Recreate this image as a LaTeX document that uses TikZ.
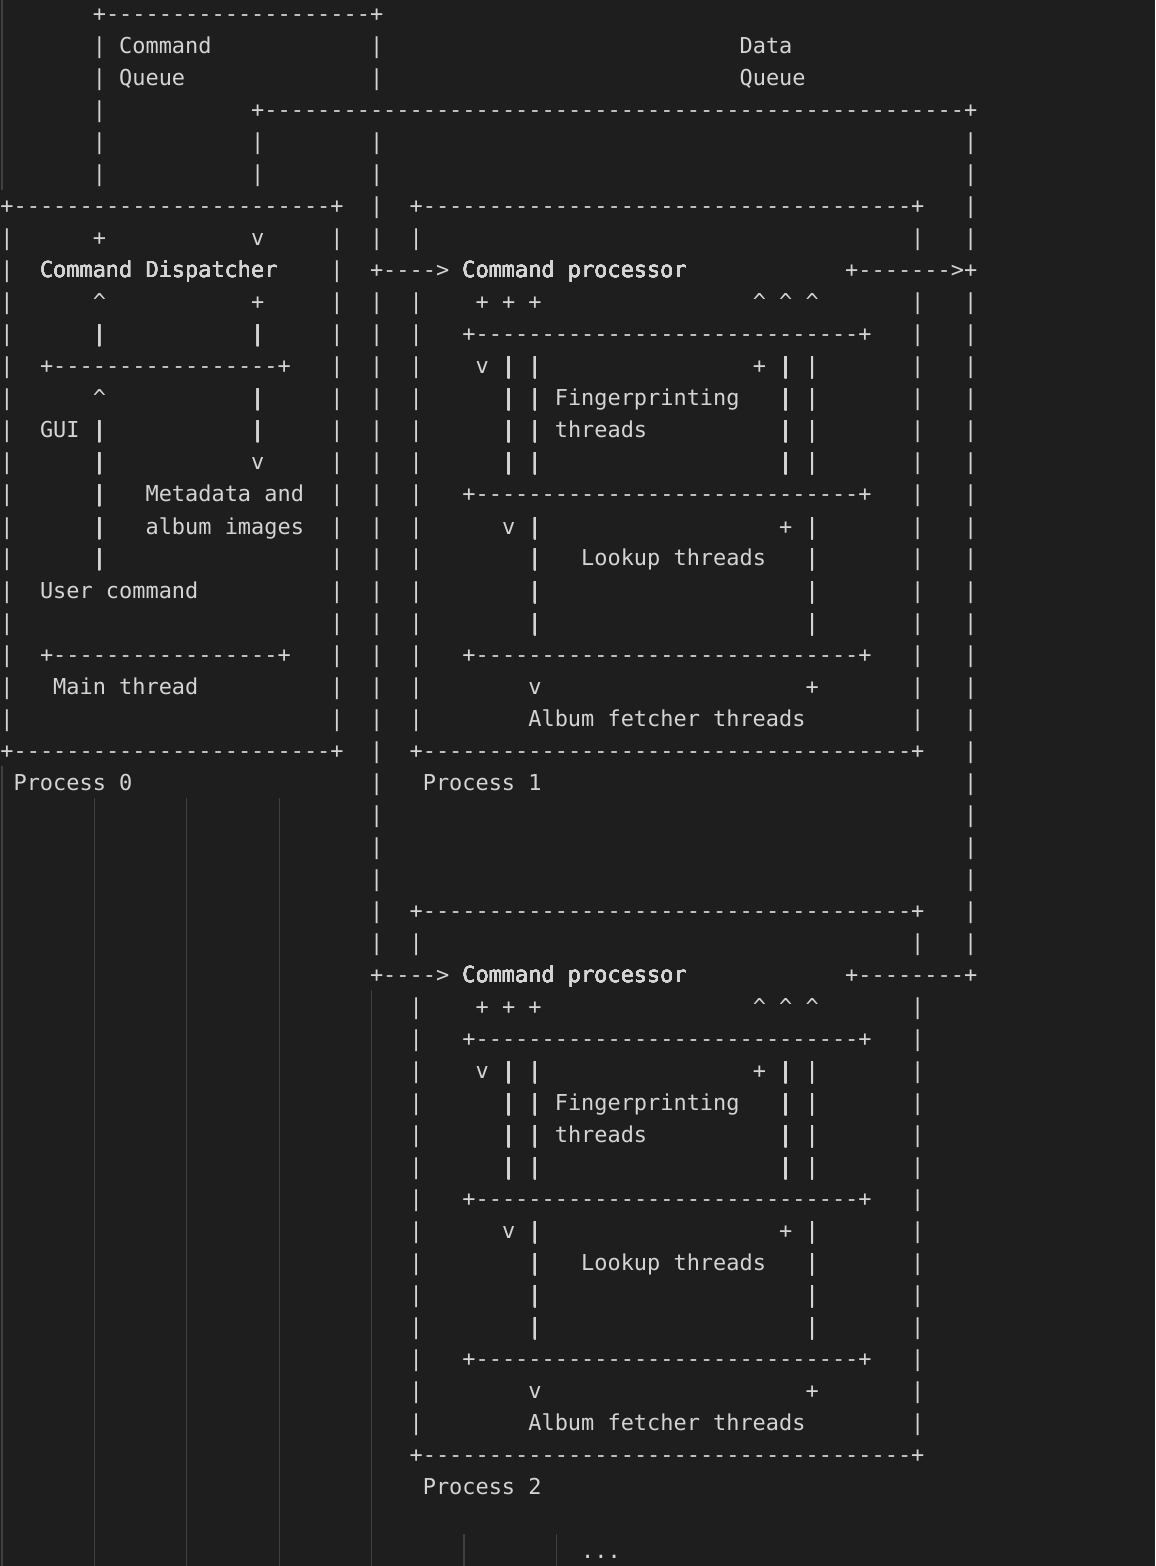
\documentclass[tikz,border=0pt]{standalone}
\usepackage{fontspec}
\newfontfamily\codefont{DejaVu Sans Mono}
\definecolor{editorbg}{HTML}{1E1E1E}
\definecolor{editorfg}{HTML}{D4D4D4}
\definecolor{guide}{HTML}{404040}
\tikzset{
  glyph/.style={anchor=base, inner sep=0pt, outer sep=0pt, yshift=-4pt,
    text=editorfg, font=\codefont\fontsize{10.96pt}{16pt}\selectfont},
  txt/.style={glyph, anchor=base west},
  guideline/.style={guide, line width=0.6pt}
}
% one character in the cell (column, row)
\newcommand\putch[3]{\node[glyph] at (#1,#2) {#3};}
% +----+ on row #1 from column #2 to column #3
\newcommand\hrun[3]{%
  \pgfmathtruncatemacro\ca{#2+1}\pgfmathtruncatemacro\cb{#3-1}%
  \foreach \c in {\ca,...,\cb} {\putch{\c}{#1}{-}}%
  \putch{#2}{#1}{+}\putch{#3}{#1}{+}}
% | in column #1 from row #2 to row #3
\newcommand\vrun[3]{%
  \pgfmathtruncatemacro\ra{#2}\pgfmathtruncatemacro\rb{#3}%
  \foreach \r in {\ra,...,\rb} {\putch{#1}{\r}{|}}}
\begin{document}
\begin{tikzpicture}[x=6.6pt, y=-16pt]
\fill[editorbg, use as bounding box] (0pt,0pt) rectangle (577.5pt,-783pt);
\begin{scope}[shift={(3.5pt,-7pt)}]
% indent guides
\foreach \c/\a/\b in {0/0/5, 0/24/48, 7/25/48, 14/25/48, 21/25/48, 28/31/48, 35/48/48, 42/48/48}
  \draw[guideline] (\c-0.38,\a-0.5) -- (\c-0.38,\b+0.5);

% queues
\hrun{0}{7}{28}
\hrun{3}{19}{73}
\vrun{7}{1}{5}
\vrun{19}{4}{5}
\vrun{28}{1}{2}
\vrun{28}{4}{7}
\vrun{28}{9}{29}
\vrun{73}{4}{7}
\vrun{73}{9}{29}
\node[txt] (cmdq)   at (8.5,1)  {Command};
\node[txt] (cmdqb)  at (8.5,2)  {Queue};
\node[txt] (dataq)  at (55.5,1) {Data};
\node[txt] (dataqb) at (55.5,2) {Queue};

% process 0
\hrun{6}{0}{25}
\hrun{23}{0}{25}
\vrun{0}{7}{22}
\vrun{25}{7}{22}
\hrun{11}{3}{21}
\hrun{20}{3}{21}
\foreach \c/\r/\s in {7/7/+, 19/7/v, 7/9/\textasciicircum, 19/9/+, 7/12/\textasciicircum, 19/14/v}
  \putch{\c}{\r}{\s}
\vrun{7}{10}{10}
\vrun{7}{13}{17}
\vrun{19}{10}{10}
\vrun{19}{12}{13}
\node[txt] (dispatcher) at (2.5,8)  {Command Dispatcher};
\node[txt] (gui)        at (2.5,13) {GUI};
\node[txt] (meta)       at (10.5,15) {Metadata and};
\node[txt] (metab)      at (10.5,16) {album images};
\node[txt] (usercmd)    at (2.5,18) {User command};
\node[txt] (mainthr)    at (3.5,21) {Main thread};
\node[txt] (proc0)      at (0.5,24) {Process 0};

% processes 1 and 2
\foreach \o/\n in {0/1, 22/2} {
  \hrun{6+\o}{31}{69}
  \hrun{23+\o}{31}{69}
  \vrun{31}{7+\o}{7+\o}
  \vrun{31}{9+\o}{22+\o}
  \vrun{69}{7+\o}{7+\o}
  \vrun{69}{9+\o}{22+\o}
  % arrows in and out
  \putch{28}{8+\o}{+}
  \foreach \c in {29,...,32} {\putch{\c}{8+\o}{-}}
  \putch{33}{8+\o}{>}
  \putch{64}{8+\o}{+}
  \foreach \c in {65,...,71} {\putch{\c}{8+\o}{-}}
  \putch{72}{8+\o}{\ifnum\o=0 >\else -\fi}
  \putch{73}{8+\o}{+}
  % thread pools
  \hrun{10+\o}{35}{65}
  \hrun{15+\o}{35}{65}
  \hrun{20+\o}{35}{65}
  \foreach \c/\r/\s in {36/9/+, 38/9/+, 40/9/+, 57/9/\textasciicircum, 59/9/\textasciicircum, 61/9/\textasciicircum,
      36/11/v, 57/11/+, 38/16/v, 59/16/+, 40/21/v, 61/21/+}
    \putch{\c}{\r+\o}{\s}
  \vrun{38}{11+\o}{14+\o}
  \vrun{40}{11+\o}{14+\o}
  \vrun{59}{11+\o}{14+\o}
  \vrun{61}{11+\o}{14+\o}
  \vrun{40}{16+\o}{19+\o}
  \vrun{61}{16+\o}{19+\o}
  \node[txt] (cproc\n)  at (34.5,8+\o)  {Command processor};
  \node[txt] (fprint\n) at (41.5,12+\o) {Fingerprinting};
  \node[txt] (fprintb\n) at (41.5,13+\o) {threads};
  \node[txt] (lookup\n) at (43.5,17+\o) {Lookup threads};
  \node[txt] (album\n)  at (39.5,22+\o) {Album fetcher threads};
  \node[txt] (proc\n)   at (31.5,24+\o) {Process \n};
}
\node[txt] (more) at (43.5,48) {...};
\end{scope}
\end{tikzpicture}
\end{document}
